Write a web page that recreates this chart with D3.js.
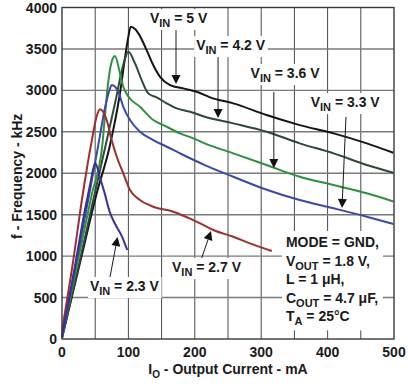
<!DOCTYPE html>
<html>
<head>
<meta charset="utf-8">
<script src="https://cdn.jsdelivr.net/npm/d3@7"></script>
<style>
  html, body { margin: 0; padding: 0; background: #fff; }
  text { font-family: "Liberation Sans", Arial, sans-serif; font-weight: bold; fill: #1a1a1a; }
</style>
</head>
<body>
<main></main>
<script>
// output current (mA), switching frequency (kHz)
const vin50 = [[0,10],[28,950],[52,1750],[72.3,2340],[87,2950],[95,3400],[100,3650],[103.5,3767],[110,3740],[115,3688],[127.5,3486],[135,3345],[147.6,3164],[162.7,3064],[182.7,3024],[202.8,2983],[225,2910],[258,2843],[308,2702],[358,2581],[409,2481],[459,2361],[499,2247]]
const vin42 = [[0,15],[27,950],[50,1780],[65.8,2340],[80,2850],[92,3300],[99.9,3466],[110,3325],[120,3124],[130,2964],[142.6,2915],[157.7,2843],[172.7,2783],[192.8,2742],[215,2682],[258,2602],[308,2501],[358,2361],[409,2240],[459,2099],[499,2005]]
const vin36 = [[0,15],[24,950],[45,1750],[60.7,2340],[64.8,2702],[69.7,3104],[74.8,3345],[79.8,3414],[87.3,3205],[92.3,3043],[100,2925],[117.5,2802],[137.5,2642],[157.7,2561],[177.7,2481],[197.7,2421],[215,2361],[258,2240],[308,2099],[358,1958],[409,1858],[459,1758],[499,1660]]
const vin33 = [[0,20],[22,950],[40,1700],[54.7,2340],[65,2800],[71,2990],[75,3064],[84.8,2983],[92.3,2802],[102.4,2642],[117.5,2501],[137.5,2400],[157.7,2320],[182.7,2220],[215,2099],[258,1958],[305,1810],[358,1677],[409,1577],[459,1475],[499,1387]]
const vin27 = [[0,100],[17,950],[30,1680],[45,2400],[52,2680],[57.2,2771],[67.3,2642],[74.8,2400],[82.4,2199],[92.3,1999],[102.4,1797],[117.5,1677],[137.5,1596],[167.6,1536],[197.7,1435],[212,1380],[228,1315],[258,1234],[283,1154],[316,1062]]
const vin23 = [[0,30],[20,900],[32,1450],[42,1850],[48,2080],[50,2123],[56.8,1958],[64.3,1757],[71.8,1536],[79.4,1396],[89.3,1254],[98.3,1074]]

const seriesNames = ["5 V", "4.2 V", "3.6 V", "3.3 V", "2.7 V", "2.3 V"]
const seriesData = [vin50, vin42, vin36, vin33, vin27, vin23]
const seriesColors = ["#151515", "#2c4a36", "#2f9140", "#3a4aa6", "#9c2f2f", "#3b2e98"]

// label anchor (text start) and arrow tail -> head, in data units
const labelAt = [[132.5,3812],[202,3486],[284,3148],[374.5,2799],[165.7,808],[42,579]]
const arrowFrom = [[171.7,3750],[235,3420],[319,2980],[427.7,2680],[207.8,917],[72.3,748]]
const arrowTo = [[171.7,3076],[235,2666],[319,2063],[421.7,1580],[224.4,1303],[83.6,1230]]

const xTicks = [0, 100, 200, 300, 400, 500]
const yTicks = [0, 500, 1000, 1500, 2000, 2500, 3000, 3500, 4000]
const xGrid = d3.range(50, 500, 50)

const conditions = [
    [["MODE = GND,", ""]],
    [["V", ""], ["OUT", "sub"], [" = 1.8 V,", ""]],
    [["L = 1 \u03bcH,", ""]],
    [["C", ""], ["OUT", "sub"], [" = 4.7 \u03bcF,", ""]],
    [["T", ""], ["A", "sub"], [" = 25\u00b0C", ""]]
]
const conditionsAt = [337.3, 1110]

const width = 409
const height = 385
const margin = { top: 7.5, right: 15, bottom: 46, left: 62 }

let svg = d3.select("main")
    .append("svg")
    .attr("width", width)
    .attr("height", height)

let x = d3.scaleLinear()
    .domain([0, 500])
    .range([margin.left, width - margin.right])

let y = d3.scaleLinear()
    .domain([0, 4000])
    .range([height - margin.bottom, margin.top])

// grid
svg.append("g")
    .selectAll("line")
    .data(xGrid)
    .enter()
    .append("line")
    .attr("x1", d => x(d)).attr("x2", d => x(d))
    .attr("y1", y(0)).attr("y2", y(4000))
    .attr("stroke", "#4a4a4a")
    .attr("stroke-width", 1)

svg.append("g")
    .selectAll("line")
    .data(yTicks.slice(1, -1))
    .enter()
    .append("line")
    .attr("x1", x(0)).attr("x2", x(500))
    .attr("y1", d => y(d)).attr("y2", d => y(d))
    .attr("stroke", "#7a7a7a")
    .attr("stroke-width", 1.4)

// tick labels
svg.append("g")
    .selectAll("text")
    .data(xTicks)
    .enter()
    .append("text")
    .attr("x", d => x(d))
    .attr("y", 357)
    .attr("text-anchor", "middle")
    .style("font-size", "14px")
    .text(d => d)

svg.append("g")
    .selectAll("text")
    .data(yTicks)
    .enter()
    .append("text")
    .attr("x", 57)
    .attr("y", d => y(d) + 5)
    .attr("text-anchor", "end")
    .style("font-size", "14px")
    .text(d => d)

// axis titles
let xTitle = svg.append("text")
    .attr("x", (x(0) + x(500)) / 2)
    .attr("y", 374)
    .attr("text-anchor", "middle")
    .style("font-size", "14px")
xTitle.append("tspan").text("I")
xTitle.append("tspan").attr("dy", 4).style("font-size", "10px").text("O")
xTitle.append("tspan").attr("dy", -4).text(" - Output Current - mA")

svg.append("text")
    .attr("transform", `translate(22, ${(y(0) + y(4000)) / 2 + 3}) rotate(-90)`)
    .attr("text-anchor", "middle")
    .style("font-size", "14px")
    .text("f - Frequency - kHz")

// curves
let line = d3.line()
    .x(d => x(d[0]))
    .y(d => y(d[1]))
    .curve(d3.curveMonotoneX)

svg.append("g")
    .selectAll("path")
    .data(seriesData)
    .enter()
    .append("path")
    .attr("d", line)
    .attr("fill", "none")
    .attr("stroke", (d, i) => seriesColors[i])
    .attr("stroke-width", 2)
    .attr("stroke-linejoin", "round")

// frame
svg.append("rect")
    .attr("x", x(0)).attr("y", y(4000))
    .attr("width", x(500) - x(0)).attr("height", y(0) - y(4000))
    .attr("fill", "none")
    .attr("stroke", "#3a3a3a")
    .attr("stroke-width", 1.4)

// writes text made of [string, "sub"|""] parts
function richText(g, parts, px, py, size, subSize) {
    let t = g.append("text").attr("x", px).attr("y", py).style("font-size", size + "px")
    let shift = 0
    parts.forEach(([s, kind]) => {
        let want = kind === "sub" ? 4 : 0
        t.append("tspan")
            .attr("dy", want - shift)
            .style("font-size", (kind === "sub" ? subSize : size) + "px")
            .text(s)
        shift = want
    })
    return t
}

function whiteBehind(g, node, pad) {
    let b = node.getBBox()
    g.insert("rect", ":first-child")
        .attr("x", b.x - pad).attr("y", b.y - pad + 1)
        .attr("width", b.width + 2 * pad).attr("height", b.height + 2 * pad - 2)
        .attr("fill", "#fff")
}

// arrows
let arrows = svg.append("g")
seriesNames.forEach((name, i) => {
    let x1 = x(arrowFrom[i][0]), y1 = y(arrowFrom[i][1])
    let x2 = x(arrowTo[i][0]), y2 = y(arrowTo[i][1])
    let ang = Math.atan2(y2 - y1, x2 - x1)
    let len = 9, half = 4.5
    let bx = x2 - len * Math.cos(ang), by = y2 - len * Math.sin(ang)
    arrows.append("line")
        .attr("x1", x1).attr("y1", y1).attr("x2", bx).attr("y2", by)
        .attr("stroke", "#1a1a1a").attr("stroke-width", 1)
    arrows.append("path")
        .attr("d", `M${x2},${y2}L${bx - half * Math.sin(ang)},${by + half * Math.cos(ang)}L${bx + half * Math.sin(ang)},${by - half * Math.cos(ang)}Z`)
        .attr("fill", "#111")
})

// series labels
seriesNames.forEach((name, i) => {
    let g = svg.append("g")
    let t = richText(g, [["V", ""], ["IN", "sub"], [" = " + name, ""]], x(labelAt[i][0]), y(labelAt[i][1]), 14, 11)
    whiteBehind(g, t.node(), 2)
})

// test conditions
let cond = svg.append("g")
conditions.forEach((parts, i) => {
    richText(cond, parts, x(conditionsAt[0]), y(conditionsAt[1]) + i * 18.6, 14, 11)
})
whiteBehind(cond, cond.node(), 4)
</script>
</body>
</html>
